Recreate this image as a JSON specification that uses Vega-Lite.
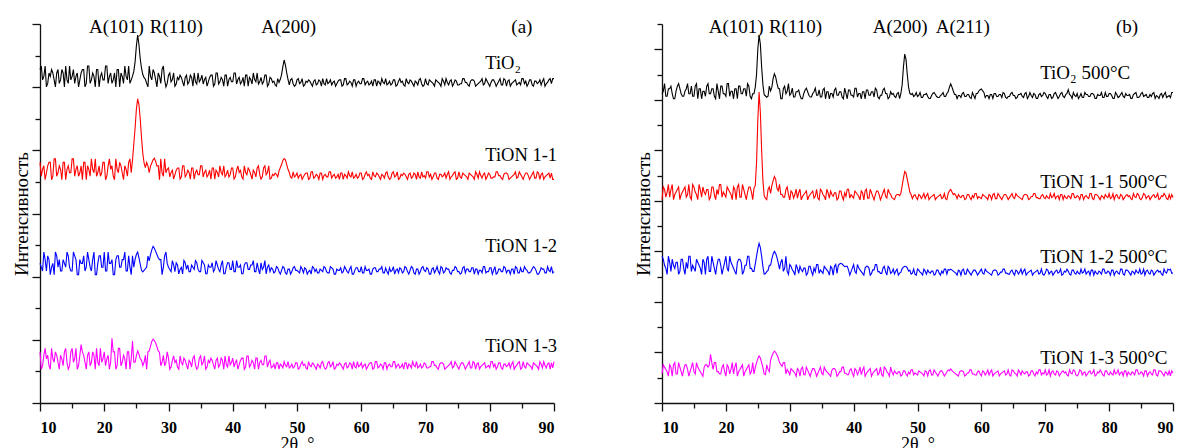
{
"$schema": "https://vega.github.io/schema/vega-lite/v6.json",
"background": "white",
"padding": {"left": 12, "top": 18, "right": 0, "bottom": 0},
"config": {
 "view": {"stroke": null},
 "axis": {"grid": false, "domainColor": "#111", "tickColor": "#111", "domainWidth": 1.3, "tickWidth": 1.3, "labelColor": "#000", "titleColor": "#000", "labelFont": "Liberation Serif, serif", "titleFont": "Liberation Serif, serif", "titleFontWeight": "normal"},
 "text": {"font": "Liberation Serif, serif", "color": "#000"}
},
"datasets": {
 "xrd": [
{"x":10.0,"a0":1056,"a1":762,"a2":442,"a3":162,"b0":1224,"b1":805,"b2":581,"b3":115},
{"x":10.4,"a0":1023,"a1":740,"a2":418,"a3":118,"b0":1264,"b1":845,"b2":545,"b3":142},
{"x":10.8,"a0":1067,"a1":707,"a2":454,"a3":173,"b0":1214,"b1":835,"b2":509,"b3":124},
{"x":11.2,"a0":1012,"a1":751,"a2":466,"a3":151,"b0":1244,"b1":815,"b2":557,"b3":151},
{"x":11.6,"a0":1034,"a1":762,"a2":406,"a3":107,"b0":1224,"b1":865,"b2":569,"b3":106},
{"x":12.0,"a0":1045,"a1":718,"a2":442,"a3":140,"b0":1204,"b1":825,"b2":533,"b3":160},
{"x":12.4,"a0":1001,"a1":773,"a2":478,"a3":162,"b0":1254,"b1":845,"b2":557,"b3":115},
{"x":12.8,"a0":1056,"a1":729,"a2":430,"a3":129,"b0":1244,"b1":805,"b2":521,"b3":142},
{"x":13.2,"a0":1023,"a1":740,"a2":418,"a3":151,"b0":1214,"b1":835,"b2":569,"b3":106},
{"x":13.6,"a0":1045,"a1":762,"a2":454,"a3":118,"b0":1234,"b1":855,"b2":509,"b3":151},
{"x":14.0,"a0":1067,"a1":707,"a2":430,"a3":173,"b0":1264,"b1":825,"b2":533,"b3":133},
{"x":14.4,"a0":1012,"a1":751,"a2":466,"a3":107,"b0":1224,"b1":815,"b2":581,"b3":124},
{"x":14.8,"a0":1023,"a1":729,"a2":418,"a3":162,"b0":1214,"b1":865,"b2":545,"b3":160},
{"x":15.2,"a0":1056,"a1":773,"a2":478,"a3":129,"b0":1254,"b1":835,"b2":521,"b3":115},
{"x":15.6,"a0":1034,"a1":740,"a2":454,"a3":173,"b0":1204,"b1":805,"b2":557,"b3":142},
{"x":16.0,"a0":1001,"a1":718,"a2":406,"a3":118,"b0":1244,"b1":845,"b2":533,"b3":124},
{"x":16.4,"a0":1045,"a1":751,"a2":442,"a3":185,"b0":1234,"b1":855,"b2":569,"b3":106},
{"x":16.8,"a0":1056,"a1":762,"a2":466,"a3":151,"b0":1214,"b1":825,"b2":509,"b3":151},
{"x":17.2,"a0":1012,"a1":707,"a2":430,"a3":107,"b0":1264,"b1":845,"b2":581,"b3":142},
{"x":17.6,"a0":1067,"a1":740,"a2":454,"a3":162,"b0":1224,"b1":815,"b2":521,"b3":193},
{"x":18.0,"a0":1023,"a1":773,"a2":418,"a3":129,"b0":1244,"b1":855,"b2":557,"b3":133},
{"x":18.4,"a0":1034,"a1":729,"a2":478,"a3":151,"b0":1204,"b1":805,"b2":509,"b3":160},
{"x":18.8,"a0":1056,"a1":718,"a2":406,"a3":173,"b0":1234,"b1":825,"b2":569,"b3":124},
{"x":19.2,"a0":1001,"a1":751,"a2":466,"a3":118,"b0":1254,"b1":865,"b2":545,"b3":115},
{"x":19.6,"a0":1045,"a1":729,"a2":430,"a3":129,"b0":1224,"b1":835,"b2":533,"b3":151},
{"x":20.0,"a0":1023,"a1":762,"a2":478,"a3":162,"b0":1214,"b1":815,"b2":581,"b3":106},
{"x":20.4,"a0":1067,"a1":718,"a2":418,"a3":140,"b0":1264,"b1":845,"b2":521,"b3":142},
{"x":20.8,"a0":1034,"a1":773,"a2":442,"a3":107,"b0":1234,"b1":825,"b2":557,"b3":133},
{"x":21.2,"a0":1012,"a1":751,"a2":454,"a3":205,"b0":1204,"b1":855,"b2":533,"b3":115},
{"x":21.6,"a0":1045,"a1":707,"a2":406,"a3":162,"b0":1244,"b1":805,"b2":509,"b3":160},
{"x":22.0,"a0":1056,"a1":740,"a2":466,"a3":118,"b0":1254,"b1":865,"b2":569,"b3":124},
{"x":22.4,"a0":1001,"a1":762,"a2":430,"a3":173,"b0":1224,"b1":815,"b2":557,"b3":142},
{"x":22.8,"a0":1034,"a1":729,"a2":454,"a3":129,"b0":1244,"b1":845,"b2":521,"b3":106},
{"x":23.2,"a0":1067,"a1":751,"a2":478,"a3":140,"b0":1214,"b1":805,"b2":545,"b3":133},
{"x":23.6,"a0":1023,"a1":718,"a2":418,"a3":162,"b0":1254,"b1":855,"b2":581,"b3":151},
{"x":24.0,"a0":1012,"a1":773,"a2":430,"a3":107,"b0":1204,"b1":835,"b2":533,"b3":124},
{"x":24.4,"a0":1035,"a1":770,"a2":466,"a3":196,"b0":1224,"b1":850,"b2":521,"b3":115},
{"x":24.8,"a0":1080,"a1":870,"a2":455,"a3":129,"b0":1300,"b1":950,"b2":580,"b3":160},
{"x":25.2,"a0":1165,"a1":963,"a2":478,"a3":165,"b0":1456,"b1":1231,"b2":632,"b3":186},
{"x":25.6,"a0":1090,"a1":900,"a2":440,"a3":140,"b0":1330,"b1":1000,"b2":580,"b3":160},
{"x":26.0,"a0":1040,"a1":790,"a2":415,"a3":118,"b0":1220,"b1":820,"b2":510,"b3":115},
{"x":26.4,"a0":1025,"a1":745,"a2":425,"a3":151,"b0":1210,"b1":805,"b2":520,"b3":151},
{"x":26.8,"a0":1001,"a1":751,"a2":465,"a3":162,"b0":1254,"b1":855,"b2":545,"b3":124},
{"x":27.2,"a0":1034,"a1":750,"a2":470,"a3":180,"b0":1250,"b1":860,"b2":570,"b3":185},
{"x":27.6,"a0":1056,"a1":770,"a2":496,"a3":202,"b0":1303,"b1":896,"b2":600,"b3":205},
{"x":28.0,"a0":1023,"a1":765,"a2":480,"a3":190,"b0":1265,"b1":850,"b2":575,"b3":190},
{"x":28.4,"a0":1045,"a1":751,"a2":460,"a3":165,"b0":1244,"b1":865,"b2":530,"b3":160},
{"x":28.8,"a0":1012,"a1":773,"a2":454,"a3":118,"b0":1204,"b1":825,"b2":569,"b3":145},
{"x":29.2,"a0":1067,"a1":718,"a2":430,"a3":151,"b0":1254,"b1":815,"b2":533,"b3":160},
{"x":29.6,"a0":1001,"a1":729,"a2":478,"a3":129,"b0":1234,"b1":855,"b2":521,"b3":133},
{"x":30.0,"a0":1038,"a1":744,"a2":430,"a3":142,"b0":1218,"b1":804,"b2":548,"b3":112},
{"x":30.4,"a0":1017,"a1":730,"a2":416,"a3":114,"b0":1246,"b1":832,"b2":527,"b3":130},
{"x":30.8,"a0":1045,"a1":709,"a2":437,"a3":149,"b0":1211,"b1":825,"b2":506,"b3":118},
{"x":31.2,"a0":1010,"a1":737,"a2":444,"a3":135,"b0":1232,"b1":811,"b2":534,"b3":136},
{"x":31.6,"a0":1024,"a1":744,"a2":409,"a3":107,"b0":1218,"b1":846,"b2":541,"b3":106},
{"x":32.0,"a0":1031,"a1":716,"a2":430,"a3":128,"b0":1204,"b1":818,"b2":520,"b3":142},
{"x":32.4,"a0":1003,"a1":751,"a2":451,"a3":142,"b0":1239,"b1":832,"b2":534,"b3":112},
{"x":32.8,"a0":1038,"a1":723,"a2":423,"a3":121,"b0":1232,"b1":804,"b2":513,"b3":130},
{"x":33.2,"a0":1017,"a1":730,"a2":416,"a3":135,"b0":1211,"b1":825,"b2":541,"b3":106},
{"x":33.6,"a0":1031,"a1":744,"a2":437,"a3":114,"b0":1225,"b1":839,"b2":506,"b3":136},
{"x":34.0,"a0":1045,"a1":709,"a2":423,"a3":149,"b0":1246,"b1":818,"b2":520,"b3":124},
{"x":34.4,"a0":1010,"a1":737,"a2":444,"a3":107,"b0":1218,"b1":811,"b2":548,"b3":118},
{"x":34.8,"a0":1017,"a1":723,"a2":416,"a3":142,"b0":1211,"b1":846,"b2":527,"b3":142},
{"x":35.2,"a0":1038,"a1":751,"a2":451,"a3":121,"b0":1239,"b1":825,"b2":513,"b3":112},
{"x":35.6,"a0":1024,"a1":730,"a2":437,"a3":149,"b0":1204,"b1":804,"b2":534,"b3":130},
{"x":36.0,"a0":1003,"a1":716,"a2":409,"a3":114,"b0":1232,"b1":832,"b2":520,"b3":118},
{"x":36.4,"a0":1031,"a1":737,"a2":430,"a3":128,"b0":1225,"b1":839,"b2":541,"b3":106},
{"x":36.8,"a0":1038,"a1":744,"a2":444,"a3":135,"b0":1211,"b1":818,"b2":506,"b3":136},
{"x":37.2,"a0":1010,"a1":709,"a2":423,"a3":107,"b0":1246,"b1":832,"b2":548,"b3":130},
{"x":37.6,"a0":1045,"a1":730,"a2":437,"a3":142,"b0":1218,"b1":811,"b2":545,"b3":112},
{"x":38.0,"a0":1017,"a1":751,"a2":416,"a3":121,"b0":1232,"b1":839,"b2":553,"b3":124},
{"x":38.4,"a0":1024,"a1":723,"a2":451,"a3":135,"b0":1204,"b1":804,"b2":545,"b3":142},
{"x":38.8,"a0":1038,"a1":716,"a2":409,"a3":149,"b0":1225,"b1":818,"b2":541,"b3":118},
{"x":39.2,"a0":1003,"a1":737,"a2":444,"a3":114,"b0":1239,"b1":846,"b2":527,"b3":112},
{"x":39.6,"a0":1031,"a1":723,"a2":423,"a3":121,"b0":1218,"b1":825,"b2":520,"b3":136},
{"x":40.0,"a0":1017,"a1":744,"a2":451,"a3":142,"b0":1211,"b1":811,"b2":548,"b3":106},
{"x":40.4,"a0":1045,"a1":716,"a2":416,"a3":128,"b0":1246,"b1":832,"b2":513,"b3":130},
{"x":40.8,"a0":1024,"a1":751,"a2":430,"a3":107,"b0":1225,"b1":818,"b2":534,"b3":124},
{"x":41.2,"a0":1010,"a1":737,"a2":437,"a3":135,"b0":1204,"b1":839,"b2":520,"b3":112},
{"x":41.6,"a0":1031,"a1":709,"a2":409,"a3":142,"b0":1232,"b1":804,"b2":506,"b3":142},
{"x":42.0,"a0":1038,"a1":730,"a2":444,"a3":114,"b0":1239,"b1":846,"b2":541,"b3":118},
{"x":42.4,"a0":1003,"a1":744,"a2":423,"a3":149,"b0":1218,"b1":811,"b2":534,"b3":130},
{"x":42.8,"a0":1024,"a1":723,"a2":437,"a3":121,"b0":1232,"b1":832,"b2":513,"b3":106},
{"x":43.2,"a0":1045,"a1":737,"a2":451,"a3":128,"b0":1211,"b1":804,"b2":527,"b3":124},
{"x":43.6,"a0":1017,"a1":716,"a2":416,"a3":142,"b0":1239,"b1":839,"b2":548,"b3":136},
{"x":44.0,"a0":1010,"a1":751,"a2":423,"a3":107,"b0":1204,"b1":825,"b2":520,"b3":118},
{"x":44.4,"a0":1031,"a1":709,"a2":444,"a3":135,"b0":1218,"b1":818,"b2":513,"b3":112},
{"x":44.8,"a0":1017,"a1":744,"a2":430,"a3":121,"b0":1246,"b1":846,"b2":541,"b3":142},
{"x":45.2,"a0":1038,"a1":723,"a2":409,"a3":149,"b0":1225,"b1":811,"b2":506,"b3":124},
{"x":45.6,"a0":1010,"a1":751,"a2":437,"a3":128,"b0":1211,"b1":832,"b2":534,"b3":106},
{"x":46.0,"a0":1027,"a1":712,"a2":428,"a3":111,"b0":1221,"b1":813,"b2":518,"b3":123},
{"x":46.4,"a0":1019,"a1":720,"a2":412,"a3":123,"b0":1213,"b1":805,"b2":510,"b3":127},
{"x":46.8,"a0":1003,"a1":724,"a2":432,"a3":127,"b0":1225,"b1":825,"b2":530,"b3":115},
{"x":47.2,"a0":1015,"a1":735,"a2":416,"a3":107,"b0":1205,"b1":821,"b2":514,"b3":123},
{"x":47.6,"a0":1040,"a1":755,"a2":420,"a3":119,"b0":1260,"b1":860,"b2":532,"b3":111},
{"x":48.0,"a0":1086,"a1":774,"a2":428,"a3":131,"b0":1381,"b1":916,"b2":541,"b3":127},
{"x":48.4,"a0":1045,"a1":755,"a2":408,"a3":115,"b0":1300,"b1":885,"b2":535,"b3":107},
{"x":48.8,"a0":1007,"a1":730,"a2":424,"a3":111,"b0":1225,"b1":835,"b2":526,"b3":115},
{"x":49.2,"a0":1027,"a1":712,"a2":416,"a3":123,"b0":1225,"b1":809,"b2":514,"b3":131},
{"x":49.6,"a0":1003,"a1":716,"a2":432,"a3":115,"b0":1217,"b1":825,"b2":510,"b3":119},
{"x":50.0,"a0":1023,"a1":728,"a2":420,"a3":127,"b0":1213,"b1":805,"b2":530,"b3":111},
{"x":50.4,"a0":1011,"a1":720,"a2":412,"a3":111,"b0":1229,"b1":821,"b2":518,"b3":123},
{"x":50.8,"a0":1027,"a1":708,"a2":424,"a3":131,"b0":1209,"b1":817,"b2":506,"b3":115},
{"x":51.2,"a0":1007,"a1":724,"a2":428,"a3":123,"b0":1221,"b1":809,"b2":522,"b3":127},
{"x":51.6,"a0":1015,"a1":728,"a2":408,"a3":107,"b0":1213,"b1":829,"b2":526,"b3":107},
{"x":52.0,"a0":1019,"a1":712,"a2":420,"a3":119,"b0":1205,"b1":813,"b2":514,"b3":131},
{"x":52.4,"a0":1003,"a1":732,"a2":432,"a3":127,"b0":1225,"b1":821,"b2":522,"b3":111},
{"x":52.8,"a0":1023,"a1":716,"a2":416,"a3":115,"b0":1221,"b1":805,"b2":510,"b3":123},
{"x":53.2,"a0":1011,"a1":720,"a2":412,"a3":123,"b0":1209,"b1":817,"b2":526,"b3":107},
{"x":53.6,"a0":1019,"a1":728,"a2":424,"a3":111,"b0":1217,"b1":825,"b2":506,"b3":127},
{"x":54.0,"a0":1027,"a1":708,"a2":416,"a3":131,"b0":1229,"b1":813,"b2":514,"b3":119},
{"x":54.4,"a0":1007,"a1":724,"a2":428,"a3":107,"b0":1213,"b1":809,"b2":530,"b3":115},
{"x":54.8,"a0":1011,"a1":716,"a2":412,"a3":127,"b0":1232,"b1":829,"b2":528,"b3":131},
{"x":55.2,"a0":1023,"a1":732,"a2":432,"a3":115,"b0":1263,"b1":845,"b2":530,"b3":135},
{"x":55.6,"a0":1015,"a1":720,"a2":424,"a3":131,"b0":1235,"b1":825,"b2":522,"b3":123},
{"x":56.0,"a0":1003,"a1":712,"a2":408,"a3":111,"b0":1221,"b1":821,"b2":514,"b3":115},
{"x":56.4,"a0":1019,"a1":724,"a2":420,"a3":119,"b0":1217,"b1":825,"b2":526,"b3":107},
{"x":56.8,"a0":1023,"a1":728,"a2":428,"a3":123,"b0":1209,"b1":813,"b2":506,"b3":127},
{"x":57.2,"a0":1007,"a1":708,"a2":416,"a3":107,"b0":1229,"b1":821,"b2":530,"b3":123},
{"x":57.6,"a0":1027,"a1":720,"a2":424,"a3":127,"b0":1213,"b1":809,"b2":510,"b3":111},
{"x":58.0,"a0":1011,"a1":732,"a2":412,"a3":115,"b0":1221,"b1":825,"b2":522,"b3":119},
{"x":58.4,"a0":1015,"a1":716,"a2":432,"a3":123,"b0":1205,"b1":805,"b2":506,"b3":131},
{"x":58.8,"a0":1023,"a1":712,"a2":408,"a3":131,"b0":1217,"b1":813,"b2":526,"b3":115},
{"x":59.2,"a0":1003,"a1":724,"a2":428,"a3":111,"b0":1225,"b1":829,"b2":518,"b3":111},
{"x":59.6,"a0":1019,"a1":716,"a2":416,"a3":115,"b0":1235,"b1":817,"b2":514,"b3":127},
{"x":60.0,"a0":1011,"a1":728,"a2":432,"a3":127,"b0":1243,"b1":809,"b2":530,"b3":107},
{"x":60.4,"a0":1027,"a1":712,"a2":412,"a3":119,"b0":1229,"b1":821,"b2":510,"b3":123},
{"x":60.8,"a0":1015,"a1":732,"a2":420,"a3":107,"b0":1217,"b1":813,"b2":522,"b3":119},
{"x":61.2,"a0":1007,"a1":724,"a2":424,"a3":123,"b0":1205,"b1":825,"b2":514,"b3":111},
{"x":61.6,"a0":1019,"a1":708,"a2":408,"a3":127,"b0":1221,"b1":805,"b2":506,"b3":131},
{"x":62.0,"a0":1023,"a1":720,"a2":428,"a3":111,"b0":1225,"b1":829,"b2":526,"b3":115},
{"x":62.4,"a0":1003,"a1":728,"a2":416,"a3":131,"b0":1213,"b1":809,"b2":522,"b3":123},
{"x":62.8,"a0":1015,"a1":716,"a2":424,"a3":115,"b0":1221,"b1":821,"b2":510,"b3":107},
{"x":63.2,"a0":1027,"a1":724,"a2":432,"a3":119,"b0":1209,"b1":805,"b2":518,"b3":119},
{"x":63.6,"a0":1011,"a1":712,"a2":412,"a3":127,"b0":1225,"b1":825,"b2":530,"b3":127},
{"x":64.0,"a0":1007,"a1":732,"a2":416,"a3":107,"b0":1205,"b1":817,"b2":514,"b3":115},
{"x":64.4,"a0":1019,"a1":708,"a2":428,"a3":123,"b0":1213,"b1":813,"b2":510,"b3":111},
{"x":64.8,"a0":1011,"a1":728,"a2":420,"a3":115,"b0":1229,"b1":829,"b2":526,"b3":131},
{"x":65.2,"a0":1023,"a1":716,"a2":408,"a3":131,"b0":1217,"b1":809,"b2":506,"b3":119},
{"x":65.6,"a0":1007,"a1":732,"a2":424,"a3":119,"b0":1209,"b1":821,"b2":522,"b3":107},
{"x":66.0,"a0":1027,"a1":712,"a2":428,"a3":111,"b0":1221,"b1":813,"b2":518,"b3":123},
{"x":66.4,"a0":1019,"a1":720,"a2":412,"a3":123,"b0":1213,"b1":805,"b2":510,"b3":127},
{"x":66.8,"a0":1003,"a1":724,"a2":432,"a3":127,"b0":1225,"b1":825,"b2":530,"b3":115},
{"x":67.2,"a0":1015,"a1":708,"a2":416,"a3":107,"b0":1205,"b1":821,"b2":514,"b3":123},
{"x":67.6,"a0":1023,"a1":728,"a2":420,"a3":119,"b0":1229,"b1":809,"b2":522,"b3":111},
{"x":68.0,"a0":1011,"a1":716,"a2":428,"a3":131,"b0":1209,"b1":817,"b2":506,"b3":127},
{"x":68.4,"a0":1019,"a1":724,"a2":408,"a3":115,"b0":1221,"b1":829,"b2":518,"b3":107},
{"x":68.8,"a0":1007,"a1":732,"a2":424,"a3":111,"b0":1205,"b1":813,"b2":526,"b3":115},
{"x":69.2,"a0":1027,"a1":712,"a2":416,"a3":123,"b0":1225,"b1":809,"b2":514,"b3":131},
{"x":69.6,"a0":1003,"a1":716,"a2":432,"a3":115,"b0":1217,"b1":825,"b2":510,"b3":119},
{"x":70.0,"a0":1027,"a1":712,"a2":416,"a3":123,"b0":1225,"b1":809,"b2":514,"b3":131},
{"x":70.4,"a0":1007,"a1":732,"a2":424,"a3":111,"b0":1205,"b1":813,"b2":526,"b3":115},
{"x":70.8,"a0":1019,"a1":724,"a2":408,"a3":115,"b0":1221,"b1":829,"b2":518,"b3":107},
{"x":71.2,"a0":1011,"a1":716,"a2":428,"a3":131,"b0":1209,"b1":817,"b2":506,"b3":127},
{"x":71.6,"a0":1023,"a1":728,"a2":420,"a3":119,"b0":1229,"b1":809,"b2":522,"b3":111},
{"x":72.0,"a0":1015,"a1":708,"a2":416,"a3":107,"b0":1205,"b1":821,"b2":514,"b3":123},
{"x":72.4,"a0":1003,"a1":724,"a2":432,"a3":127,"b0":1225,"b1":825,"b2":530,"b3":115},
{"x":72.8,"a0":1019,"a1":720,"a2":412,"a3":123,"b0":1213,"b1":805,"b2":510,"b3":127},
{"x":73.2,"a0":1027,"a1":712,"a2":428,"a3":111,"b0":1221,"b1":813,"b2":518,"b3":123},
{"x":73.6,"a0":1007,"a1":732,"a2":424,"a3":119,"b0":1240,"b1":821,"b2":522,"b3":107},
{"x":74.0,"a0":1023,"a1":716,"a2":408,"a3":131,"b0":1217,"b1":809,"b2":506,"b3":119},
{"x":74.4,"a0":1011,"a1":728,"a2":420,"a3":115,"b0":1229,"b1":829,"b2":526,"b3":131},
{"x":74.8,"a0":1019,"a1":708,"a2":428,"a3":123,"b0":1213,"b1":813,"b2":510,"b3":111},
{"x":75.2,"a0":1007,"a1":732,"a2":416,"a3":107,"b0":1205,"b1":817,"b2":514,"b3":115},
{"x":75.6,"a0":1011,"a1":712,"a2":412,"a3":127,"b0":1225,"b1":825,"b2":530,"b3":127},
{"x":76.0,"a0":1027,"a1":724,"a2":432,"a3":119,"b0":1209,"b1":805,"b2":518,"b3":119},
{"x":76.4,"a0":1015,"a1":716,"a2":424,"a3":115,"b0":1221,"b1":821,"b2":510,"b3":107},
{"x":76.8,"a0":1003,"a1":728,"a2":416,"a3":131,"b0":1213,"b1":809,"b2":522,"b3":123},
{"x":77.2,"a0":1023,"a1":720,"a2":428,"a3":111,"b0":1225,"b1":829,"b2":526,"b3":115},
{"x":77.6,"a0":1019,"a1":708,"a2":408,"a3":127,"b0":1221,"b1":805,"b2":506,"b3":131},
{"x":78.0,"a0":1007,"a1":724,"a2":424,"a3":123,"b0":1205,"b1":825,"b2":514,"b3":111},
{"x":78.4,"a0":1015,"a1":732,"a2":420,"a3":107,"b0":1217,"b1":813,"b2":522,"b3":119},
{"x":78.8,"a0":1027,"a1":712,"a2":412,"a3":119,"b0":1229,"b1":821,"b2":510,"b3":123},
{"x":79.2,"a0":1011,"a1":728,"a2":432,"a3":127,"b0":1209,"b1":809,"b2":530,"b3":107},
{"x":79.6,"a0":1019,"a1":716,"a2":416,"a3":115,"b0":1213,"b1":817,"b2":514,"b3":127},
{"x":80.0,"a0":1003,"a1":724,"a2":428,"a3":111,"b0":1225,"b1":829,"b2":518,"b3":111},
{"x":80.4,"a0":1023,"a1":712,"a2":408,"a3":131,"b0":1217,"b1":813,"b2":526,"b3":115},
{"x":80.8,"a0":1015,"a1":716,"a2":432,"a3":123,"b0":1205,"b1":805,"b2":506,"b3":131},
{"x":81.2,"a0":1011,"a1":732,"a2":412,"a3":115,"b0":1221,"b1":825,"b2":522,"b3":119},
{"x":81.6,"a0":1027,"a1":720,"a2":424,"a3":127,"b0":1213,"b1":809,"b2":510,"b3":111},
{"x":82.0,"a0":1007,"a1":708,"a2":416,"a3":107,"b0":1229,"b1":821,"b2":530,"b3":123},
{"x":82.4,"a0":1023,"a1":728,"a2":428,"a3":123,"b0":1209,"b1":813,"b2":506,"b3":127},
{"x":82.8,"a0":1019,"a1":724,"a2":420,"a3":119,"b0":1217,"b1":825,"b2":526,"b3":107},
{"x":83.2,"a0":1003,"a1":712,"a2":408,"a3":111,"b0":1221,"b1":821,"b2":514,"b3":115},
{"x":83.6,"a0":1015,"a1":720,"a2":424,"a3":131,"b0":1205,"b1":805,"b2":522,"b3":123},
{"x":84.0,"a0":1023,"a1":732,"a2":432,"a3":115,"b0":1225,"b1":817,"b2":510,"b3":111},
{"x":84.4,"a0":1011,"a1":716,"a2":412,"a3":127,"b0":1209,"b1":829,"b2":518,"b3":131},
{"x":84.8,"a0":1007,"a1":724,"a2":428,"a3":107,"b0":1213,"b1":809,"b2":530,"b3":115},
{"x":85.2,"a0":1027,"a1":708,"a2":416,"a3":131,"b0":1229,"b1":813,"b2":514,"b3":119},
{"x":85.6,"a0":1019,"a1":728,"a2":424,"a3":111,"b0":1217,"b1":825,"b2":506,"b3":127},
{"x":86.0,"a0":1011,"a1":720,"a2":412,"a3":123,"b0":1209,"b1":817,"b2":526,"b3":107},
{"x":86.4,"a0":1023,"a1":716,"a2":416,"a3":115,"b0":1221,"b1":805,"b2":510,"b3":123},
{"x":86.8,"a0":1003,"a1":732,"a2":432,"a3":127,"b0":1225,"b1":821,"b2":522,"b3":111},
{"x":87.2,"a0":1019,"a1":712,"a2":420,"a3":119,"b0":1205,"b1":813,"b2":514,"b3":131},
{"x":87.6,"a0":1015,"a1":728,"a2":408,"a3":107,"b0":1213,"b1":829,"b2":526,"b3":107},
{"x":88.0,"a0":1007,"a1":724,"a2":428,"a3":123,"b0":1221,"b1":809,"b2":522,"b3":127},
{"x":88.4,"a0":1027,"a1":708,"a2":424,"a3":131,"b0":1209,"b1":817,"b2":506,"b3":115},
{"x":88.8,"a0":1011,"a1":720,"a2":412,"a3":111,"b0":1229,"b1":821,"b2":518,"b3":123},
{"x":89.2,"a0":1023,"a1":728,"a2":420,"a3":127,"b0":1213,"b1":805,"b2":530,"b3":111},
{"x":89.6,"a0":1011,"a1":728,"a2":432,"a3":127,"b0":1209,"b1":809,"b2":530,"b3":107},
{"x":90.0,"a0":1027,"a1":708,"a2":416,"a3":131,"b0":1229,"b1":813,"b2":514,"b3":119},
{"x":10.2,"a0":1067,"a1":718,"a2":430,"a3":107,"b0":1234,"b1":855,"b2":569,"b3":151},
{"x":10.6,"a0":1034,"a1":751,"a2":478,"a3":151,"b0":1214,"b1":815,"b2":533,"b3":133},
{"x":11.0,"a0":1001,"a1":729,"a2":418,"a3":140,"b0":1244,"b1":865,"b2":581,"b3":106},
{"x":11.4,"a0":1045,"a1":762,"a2":454,"a3":118,"b0":1254,"b1":845,"b2":521,"b3":142},
{"x":11.8,"a0":1056,"a1":707,"a2":430,"a3":173,"b0":1204,"b1":805,"b2":545,"b3":151},
{"x":12.2,"a0":1023,"a1":773,"a2":406,"a3":129,"b0":1234,"b1":835,"b2":557,"b3":115},
{"x":12.6,"a0":1045,"a1":718,"a2":466,"a3":151,"b0":1264,"b1":855,"b2":509,"b3":160},
{"x":13.0,"a0":1012,"a1":751,"a2":454,"a3":107,"b0":1224,"b1":825,"b2":569,"b3":124},
{"x":13.4,"a0":1056,"a1":707,"a2":418,"a3":140,"b0":1214,"b1":845,"b2":533,"b3":133},
{"x":13.8,"a0":1001,"a1":762,"a2":442,"a3":162,"b0":1244,"b1":815,"b2":557,"b3":151},
{"x":14.2,"a0":1023,"a1":740,"a2":478,"a3":129,"b0":1224,"b1":865,"b2":581,"b3":106},
{"x":14.6,"a0":1067,"a1":729,"a2":430,"a3":118,"b0":1254,"b1":805,"b2":521,"b3":142},
{"x":15.0,"a0":1034,"a1":773,"a2":418,"a3":173,"b0":1214,"b1":855,"b2":533,"b3":124},
{"x":15.4,"a0":1012,"a1":718,"a2":466,"a3":140,"b0":1264,"b1":825,"b2":569,"b3":160},
{"x":15.8,"a0":1045,"a1":751,"a2":406,"a3":107,"b0":1244,"b1":865,"b2":545,"b3":133},
{"x":16.2,"a0":1023,"a1":729,"a2":454,"a3":151,"b0":1204,"b1":815,"b2":509,"b3":115},
{"x":16.6,"a0":1056,"a1":707,"a2":442,"a3":162,"b0":1234,"b1":835,"b2":557,"b3":142},
{"x":17.0,"a0":1001,"a1":762,"a2":418,"a3":129,"b0":1254,"b1":845,"b2":569,"b3":151},
{"x":17.4,"a0":1067,"a1":751,"a2":478,"a3":151,"b0":1224,"b1":805,"b2":521,"b3":150},
{"x":17.8,"a0":1012,"a1":718,"a2":430,"a3":118,"b0":1244,"b1":855,"b2":581,"b3":160},
{"x":18.2,"a0":1045,"a1":740,"a2":454,"a3":162,"b0":1214,"b1":825,"b2":533,"b3":160},
{"x":18.6,"a0":1001,"a1":773,"a2":406,"a3":107,"b0":1264,"b1":845,"b2":545,"b3":124},
{"x":19.0,"a0":1056,"a1":729,"a2":442,"a3":129,"b0":1204,"b1":865,"b2":569,"b3":115},
{"x":19.4,"a0":1034,"a1":718,"a2":466,"a3":173,"b0":1254,"b1":815,"b2":509,"b3":142},
{"x":19.8,"a0":1023,"a1":762,"a2":430,"a3":140,"b0":1224,"b1":825,"b2":557,"b3":124},
{"x":20.2,"a0":1067,"a1":707,"a2":418,"a3":118,"b0":1264,"b1":855,"b2":533,"b3":151},
{"x":20.6,"a0":1012,"a1":751,"a2":478,"a3":151,"b0":1214,"b1":835,"b2":581,"b3":115},
{"x":21.0,"a0":1045,"a1":740,"a2":442,"a3":129,"b0":1234,"b1":805,"b2":545,"b3":160},
{"x":21.4,"a0":1023,"a1":718,"a2":406,"a3":162,"b0":1244,"b1":845,"b2":521,"b3":142},
{"x":21.8,"a0":1001,"a1":773,"a2":454,"a3":107,"b0":1204,"b1":855,"b2":557,"b3":106},
{"x":22.2,"a0":1056,"a1":729,"a2":466,"a3":173,"b0":1254,"b1":815,"b2":569,"b3":133},
{"x":22.6,"a0":1045,"a1":751,"a2":430,"a3":118,"b0":1224,"b1":865,"b2":509,"b3":151},
{"x":23.0,"a0":1012,"a1":707,"a2":454,"a3":151,"b0":1244,"b1":825,"b2":545,"b3":124},
{"x":23.4,"a0":1034,"a1":740,"a2":418,"a3":107,"b0":1264,"b1":835,"b2":581,"b3":142},
{"x":23.8,"a0":1067,"a1":762,"a2":466,"a3":162,"b0":1214,"b1":855,"b2":533,"b3":115},
{"x":24.2,"a0":1023,"a1":729,"a2":406,"a3":140,"b0":1224,"b1":805,"b2":521,"b3":160},
{"x":24.6,"a0":1050,"a1":820,"a2":430,"a3":129,"b0":1250,"b1":860,"b2":550,"b3":140},
{"x":25.0,"a0":1130,"a1":930,"a2":470,"a3":150,"b0":1400,"b1":1120,"b2":610,"b3":175},
{"x":25.4,"a0":1135,"a1":945,"a2":460,"a3":155,"b0":1420,"b1":1150,"b2":615,"b3":178},
{"x":25.8,"a0":1060,"a1":840,"a2":420,"a3":135,"b0":1260,"b1":880,"b2":540,"b3":140},
{"x":26.2,"a0":1030,"a1":760,"a2":420,"a3":129,"b0":1215,"b1":810,"b2":512,"b3":112},
{"x":26.6,"a0":1012,"a1":762,"a2":430,"a3":107,"b0":1214,"b1":845,"b2":525,"b3":133},
{"x":27.0,"a0":1067,"a1":729,"a2":450,"a3":165,"b0":1235,"b1":830,"b2":545,"b3":170},
{"x":27.4,"a0":1023,"a1":760,"a2":485,"a3":195,"b0":1285,"b1":880,"b2":590,"b3":198},
{"x":27.8,"a0":1045,"a1":775,"a2":490,"a3":198,"b0":1290,"b1":885,"b2":592,"b3":200},
{"x":28.2,"a0":1001,"a1":750,"a2":470,"a3":178,"b0":1245,"b1":840,"b2":555,"b3":178},
{"x":28.6,"a0":1034,"a1":707,"a2":454,"a3":160,"b0":1204,"b1":825,"b2":557,"b3":152},
{"x":29.0,"a0":1056,"a1":729,"a2":406,"a3":129,"b0":1244,"b1":815,"b2":521,"b3":160},
{"x":29.4,"a0":1023,"a1":773,"a2":466,"a3":118,"b0":1224,"b1":845,"b2":581,"b3":115},
{"x":29.8,"a0":1012,"a1":740,"a2":442,"a3":162,"b0":1264,"b1":825,"b2":509,"b3":124},
{"x":30.2,"a0":1045,"a1":716,"a2":423,"a3":107,"b0":1225,"b1":839,"b2":541,"b3":136},
{"x":30.6,"a0":1024,"a1":737,"a2":451,"a3":135,"b0":1211,"b1":811,"b2":520,"b3":124},
{"x":31.0,"a0":1003,"a1":723,"a2":416,"a3":128,"b0":1232,"b1":846,"b2":548,"b3":106},
{"x":31.4,"a0":1031,"a1":744,"a2":437,"a3":114,"b0":1239,"b1":832,"b2":513,"b3":130},
{"x":31.8,"a0":1038,"a1":709,"a2":423,"a3":149,"b0":1204,"b1":804,"b2":527,"b3":136},
{"x":32.2,"a0":1017,"a1":751,"a2":409,"a3":121,"b0":1225,"b1":825,"b2":534,"b3":112},
{"x":32.6,"a0":1031,"a1":716,"a2":444,"a3":135,"b0":1246,"b1":839,"b2":506,"b3":142},
{"x":33.0,"a0":1010,"a1":737,"a2":437,"a3":107,"b0":1218,"b1":818,"b2":541,"b3":118},
{"x":33.4,"a0":1038,"a1":709,"a2":416,"a3":128,"b0":1211,"b1":832,"b2":520,"b3":124},
{"x":33.8,"a0":1003,"a1":744,"a2":430,"a3":142,"b0":1232,"b1":811,"b2":534,"b3":136},
{"x":34.2,"a0":1017,"a1":730,"a2":451,"a3":121,"b0":1218,"b1":846,"b2":548,"b3":106},
{"x":34.6,"a0":1045,"a1":723,"a2":423,"a3":114,"b0":1239,"b1":804,"b2":513,"b3":130},
{"x":35.0,"a0":1024,"a1":751,"a2":416,"a3":149,"b0":1211,"b1":839,"b2":520,"b3":118},
{"x":35.4,"a0":1010,"a1":716,"a2":444,"a3":128,"b0":1246,"b1":818,"b2":541,"b3":142},
{"x":35.8,"a0":1031,"a1":737,"a2":409,"a3":107,"b0":1232,"b1":846,"b2":527,"b3":124},
{"x":36.2,"a0":1017,"a1":723,"a2":437,"a3":135,"b0":1204,"b1":811,"b2":506,"b3":112},
{"x":36.6,"a0":1038,"a1":709,"a2":430,"a3":142,"b0":1225,"b1":825,"b2":534,"b3":130},
{"x":37.0,"a0":1003,"a1":744,"a2":416,"a3":121,"b0":1239,"b1":832,"b2":541,"b3":136},
{"x":37.4,"a0":1045,"a1":737,"a2":451,"a3":135,"b0":1218,"b1":804,"b2":513,"b3":106},
{"x":37.8,"a0":1010,"a1":716,"a2":423,"a3":114,"b0":1232,"b1":839,"b2":550,"b3":124},
{"x":38.2,"a0":1031,"a1":730,"a2":437,"a3":142,"b0":1211,"b1":818,"b2":550,"b3":142},
{"x":38.6,"a0":1003,"a1":751,"a2":409,"a3":107,"b0":1246,"b1":832,"b2":540,"b3":118},
{"x":39.0,"a0":1038,"a1":723,"a2":430,"a3":121,"b0":1204,"b1":846,"b2":541,"b3":112},
{"x":39.4,"a0":1024,"a1":716,"a2":444,"a3":149,"b0":1239,"b1":811,"b2":506,"b3":130},
{"x":39.8,"a0":1017,"a1":744,"a2":423,"a3":128,"b0":1218,"b1":818,"b2":534,"b3":118},
{"x":40.2,"a0":1045,"a1":709,"a2":416,"a3":114,"b0":1246,"b1":839,"b2":520,"b3":136},
{"x":40.6,"a0":1010,"a1":737,"a2":451,"a3":135,"b0":1211,"b1":825,"b2":548,"b3":112},
{"x":41.0,"a0":1031,"a1":730,"a2":430,"a3":121,"b0":1225,"b1":804,"b2":527,"b3":142},
{"x":41.4,"a0":1017,"a1":716,"a2":409,"a3":142,"b0":1232,"b1":832,"b2":513,"b3":130},
{"x":41.8,"a0":1003,"a1":751,"a2":437,"a3":107,"b0":1204,"b1":839,"b2":534,"b3":106},
{"x":42.2,"a0":1038,"a1":723,"a2":444,"a3":149,"b0":1239,"b1":811,"b2":541,"b3":124},
{"x":42.6,"a0":1031,"a1":737,"a2":423,"a3":114,"b0":1218,"b1":846,"b2":506,"b3":136},
{"x":43.0,"a0":1010,"a1":709,"a2":437,"a3":135,"b0":1232,"b1":818,"b2":527,"b3":118},
{"x":43.4,"a0":1024,"a1":730,"a2":416,"a3":107,"b0":1246,"b1":825,"b2":548,"b3":130},
{"x":43.8,"a0":1045,"a1":744,"a2":444,"a3":142,"b0":1211,"b1":839,"b2":520,"b3":112},
{"x":44.2,"a0":1017,"a1":723,"a2":409,"a3":128,"b0":1218,"b1":804,"b2":513,"b3":142},
{"x":44.6,"a0":1010,"a1":716,"a2":423,"a3":121,"b0":1239,"b1":832,"b2":534,"b3":106},
{"x":45.0,"a0":1038,"a1":751,"a2":451,"a3":149,"b0":1225,"b1":818,"b2":520,"b3":136},
{"x":45.4,"a0":1003,"a1":730,"a2":430,"a3":114,"b0":1204,"b1":846,"b2":541,"b3":118},
{"x":45.8,"a0":1031,"a1":709,"a2":416,"a3":135,"b0":1232,"b1":825,"b2":513,"b3":142},
{"x":46.2,"a0":1015,"a1":724,"a2":424,"a3":115,"b0":1225,"b1":809,"b2":530,"b3":111},
{"x":46.6,"a0":1007,"a1":728,"a2":416,"a3":107,"b0":1209,"b1":821,"b2":522,"b3":119},
{"x":47.0,"a0":1027,"a1":716,"a2":428,"a3":127,"b0":1229,"b1":825,"b2":506,"b3":123},
{"x":47.4,"a0":1025,"a1":745,"a2":408,"a3":123,"b0":1225,"b1":830,"b2":518,"b3":107},
{"x":47.8,"a0":1065,"a1":768,"a2":432,"a3":111,"b0":1330,"b1":890,"b2":538,"b3":127},
{"x":48.2,"a0":1070,"a1":770,"a2":412,"a3":119,"b0":1360,"b1":910,"b2":540,"b3":115},
{"x":48.6,"a0":1025,"a1":740,"a2":424,"a3":131,"b0":1250,"b1":860,"b2":522,"b3":123},
{"x":49.0,"a0":1023,"a1":716,"a2":408,"a3":115,"b0":1221,"b1":825,"b2":510,"b3":131},
{"x":49.4,"a0":1011,"a1":732,"a2":428,"a3":111,"b0":1213,"b1":821,"b2":530,"b3":111},
{"x":49.8,"a0":1007,"a1":720,"a2":420,"a3":127,"b0":1229,"b1":813,"b2":506,"b3":115},
{"x":50.2,"a0":1027,"a1":712,"a2":416,"a3":107,"b0":1217,"b1":825,"b2":526,"b3":127},
{"x":50.6,"a0":1015,"a1":724,"a2":432,"a3":123,"b0":1209,"b1":809,"b2":514,"b3":119},
{"x":51.0,"a0":1003,"a1":716,"a2":412,"a3":119,"b0":1221,"b1":829,"b2":530,"b3":107},
{"x":51.4,"a0":1019,"a1":728,"a2":424,"a3":111,"b0":1225,"b1":821,"b2":510,"b3":123},
{"x":51.8,"a0":1023,"a1":708,"a2":416,"a3":131,"b0":1205,"b1":805,"b2":518,"b3":127},
{"x":52.2,"a0":1011,"a1":732,"a2":408,"a3":115,"b0":1217,"b1":817,"b2":522,"b3":111},
{"x":52.6,"a0":1019,"a1":712,"a2":428,"a3":123,"b0":1229,"b1":825,"b2":506,"b3":131},
{"x":53.0,"a0":1007,"a1":724,"a2":424,"a3":107,"b0":1213,"b1":813,"b2":526,"b3":115},
{"x":53.4,"a0":1023,"a1":708,"a2":412,"a3":119,"b0":1209,"b1":821,"b2":514,"b3":119},
{"x":53.8,"a0":1003,"a1":728,"a2":420,"a3":127,"b0":1221,"b1":809,"b2":522,"b3":127},
{"x":54.2,"a0":1011,"a1":720,"a2":432,"a3":115,"b0":1213,"b1":829,"b2":530,"b3":107},
{"x":54.6,"a0":1027,"a1":716,"a2":416,"a3":111,"b0":1225,"b1":805,"b2":510,"b3":123},
{"x":55.0,"a0":1015,"a1":732,"a2":412,"a3":131,"b0":1250,"b1":840,"b2":526,"b3":128},
{"x":55.4,"a0":1007,"a1":712,"a2":428,"a3":119,"b0":1250,"b1":835,"b2":526,"b3":128},
{"x":55.8,"a0":1019,"a1":724,"a2":408,"a3":107,"b0":1221,"b1":829,"b2":518,"b3":119},
{"x":56.2,"a0":1011,"a1":716,"a2":424,"a3":123,"b0":1205,"b1":809,"b2":506,"b3":111},
{"x":56.6,"a0":1023,"a1":708,"a2":420,"a3":127,"b0":1217,"b1":817,"b2":522,"b3":123},
{"x":57.0,"a0":1003,"a1":728,"a2":412,"a3":115,"b0":1225,"b1":821,"b2":526,"b3":127},
{"x":57.4,"a0":1027,"a1":724,"a2":432,"a3":123,"b0":1213,"b1":805,"b2":510,"b3":107},
{"x":57.8,"a0":1007,"a1":712,"a2":416,"a3":111,"b0":1221,"b1":825,"b2":530,"b3":119},
{"x":58.2,"a0":1019,"a1":720,"a2":424,"a3":127,"b0":1209,"b1":813,"b2":514,"b3":131},
{"x":58.6,"a0":1003,"a1":732,"a2":408,"a3":107,"b0":1229,"b1":821,"b2":518,"b3":115},
{"x":59.0,"a0":1023,"a1":716,"a2":420,"a3":115,"b0":1205,"b1":829,"b2":526,"b3":111},
{"x":59.4,"a0":1015,"a1":712,"a2":428,"a3":131,"b0":1225,"b1":809,"b2":506,"b3":123},
{"x":59.8,"a0":1011,"a1":728,"a2":416,"a3":119,"b0":1240,"b1":813,"b2":522,"b3":115},
{"x":60.2,"a0":1027,"a1":708,"a2":412,"a3":111,"b0":1235,"b1":825,"b2":514,"b3":127},
{"x":60.6,"a0":1007,"a1":724,"a2":432,"a3":123,"b0":1209,"b1":817,"b2":530,"b3":111},
{"x":61.0,"a0":1019,"a1":720,"a2":420,"a3":115,"b0":1217,"b1":805,"b2":518,"b3":131},
{"x":61.4,"a0":1011,"a1":712,"a2":408,"a3":127,"b0":1221,"b1":821,"b2":510,"b3":123},
{"x":61.8,"a0":1003,"a1":732,"a2":424,"a3":107,"b0":1205,"b1":825,"b2":522,"b3":107},
{"x":62.2,"a0":1023,"a1":716,"a2":428,"a3":131,"b0":1225,"b1":809,"b2":526,"b3":119},
{"x":62.6,"a0":1019,"a1":724,"a2":416,"a3":111,"b0":1213,"b1":829,"b2":506,"b3":127},
{"x":63.0,"a0":1007,"a1":708,"a2":424,"a3":123,"b0":1221,"b1":813,"b2":518,"b3":115},
{"x":63.4,"a0":1015,"a1":720,"a2":412,"a3":107,"b0":1229,"b1":817,"b2":530,"b3":123},
{"x":63.8,"a0":1027,"a1":728,"a2":428,"a3":127,"b0":1209,"b1":825,"b2":514,"b3":111},
{"x":64.2,"a0":1011,"a1":716,"a2":408,"a3":119,"b0":1213,"b1":805,"b2":510,"b3":131},
{"x":64.6,"a0":1007,"a1":712,"a2":416,"a3":115,"b0":1225,"b1":821,"b2":522,"b3":107},
{"x":65.0,"a0":1023,"a1":732,"a2":432,"a3":131,"b0":1217,"b1":813,"b2":514,"b3":127},
{"x":65.4,"a0":1003,"a1":720,"a2":420,"a3":111,"b0":1205,"b1":829,"b2":526,"b3":115},
{"x":65.8,"a0":1019,"a1":708,"a2":412,"a3":123,"b0":1221,"b1":817,"b2":510,"b3":131},
{"x":66.2,"a0":1015,"a1":724,"a2":424,"a3":115,"b0":1225,"b1":809,"b2":530,"b3":111},
{"x":66.6,"a0":1007,"a1":728,"a2":416,"a3":107,"b0":1209,"b1":821,"b2":522,"b3":119},
{"x":67.0,"a0":1027,"a1":716,"a2":428,"a3":127,"b0":1229,"b1":825,"b2":506,"b3":123},
{"x":67.4,"a0":1011,"a1":724,"a2":408,"a3":123,"b0":1213,"b1":805,"b2":518,"b3":107},
{"x":67.8,"a0":1019,"a1":712,"a2":432,"a3":111,"b0":1217,"b1":817,"b2":526,"b3":127},
{"x":68.2,"a0":1003,"a1":728,"a2":412,"a3":119,"b0":1225,"b1":829,"b2":514,"b3":115},
{"x":68.6,"a0":1015,"a1":708,"a2":424,"a3":131,"b0":1205,"b1":813,"b2":522,"b3":123},
{"x":69.0,"a0":1023,"a1":716,"a2":408,"a3":115,"b0":1221,"b1":809,"b2":510,"b3":131},
{"x":69.4,"a0":1011,"a1":732,"a2":428,"a3":111,"b0":1213,"b1":821,"b2":530,"b3":111},
{"x":69.8,"a0":1007,"a1":720,"a2":420,"a3":127,"b0":1229,"b1":813,"b2":506,"b3":115},
{"x":70.2,"a0":1011,"a1":732,"a2":428,"a3":111,"b0":1213,"b1":821,"b2":530,"b3":111},
{"x":70.6,"a0":1023,"a1":716,"a2":408,"a3":115,"b0":1221,"b1":809,"b2":510,"b3":131},
{"x":71.0,"a0":1015,"a1":708,"a2":424,"a3":131,"b0":1205,"b1":813,"b2":522,"b3":123},
{"x":71.4,"a0":1003,"a1":728,"a2":412,"a3":119,"b0":1225,"b1":829,"b2":514,"b3":115},
{"x":71.8,"a0":1019,"a1":712,"a2":432,"a3":111,"b0":1217,"b1":817,"b2":526,"b3":127},
{"x":72.2,"a0":1011,"a1":724,"a2":408,"a3":123,"b0":1213,"b1":805,"b2":518,"b3":107},
{"x":72.6,"a0":1027,"a1":716,"a2":428,"a3":127,"b0":1229,"b1":825,"b2":506,"b3":123},
{"x":73.0,"a0":1007,"a1":728,"a2":416,"a3":107,"b0":1209,"b1":821,"b2":522,"b3":119},
{"x":73.4,"a0":1015,"a1":724,"a2":424,"a3":115,"b0":1225,"b1":809,"b2":530,"b3":111},
{"x":73.8,"a0":1019,"a1":708,"a2":412,"a3":123,"b0":1221,"b1":817,"b2":510,"b3":131},
{"x":74.2,"a0":1003,"a1":720,"a2":420,"a3":111,"b0":1205,"b1":829,"b2":526,"b3":115},
{"x":74.6,"a0":1023,"a1":732,"a2":432,"a3":131,"b0":1217,"b1":813,"b2":514,"b3":127},
{"x":75.0,"a0":1007,"a1":712,"a2":416,"a3":115,"b0":1225,"b1":821,"b2":522,"b3":107},
{"x":75.4,"a0":1011,"a1":716,"a2":408,"a3":119,"b0":1213,"b1":805,"b2":510,"b3":131},
{"x":75.8,"a0":1027,"a1":728,"a2":428,"a3":127,"b0":1209,"b1":825,"b2":514,"b3":111},
{"x":76.2,"a0":1015,"a1":720,"a2":412,"a3":107,"b0":1229,"b1":817,"b2":530,"b3":123},
{"x":76.6,"a0":1007,"a1":708,"a2":424,"a3":123,"b0":1221,"b1":813,"b2":518,"b3":115},
{"x":77.0,"a0":1019,"a1":724,"a2":416,"a3":111,"b0":1213,"b1":829,"b2":506,"b3":127},
{"x":77.4,"a0":1023,"a1":716,"a2":428,"a3":131,"b0":1225,"b1":809,"b2":526,"b3":119},
{"x":77.8,"a0":1003,"a1":732,"a2":424,"a3":107,"b0":1205,"b1":825,"b2":522,"b3":107},
{"x":78.2,"a0":1011,"a1":712,"a2":408,"a3":127,"b0":1221,"b1":821,"b2":510,"b3":123},
{"x":78.6,"a0":1019,"a1":720,"a2":420,"a3":115,"b0":1217,"b1":805,"b2":518,"b3":131},
{"x":79.0,"a0":1007,"a1":724,"a2":432,"a3":123,"b0":1209,"b1":817,"b2":530,"b3":111},
{"x":79.4,"a0":1027,"a1":708,"a2":412,"a3":111,"b0":1229,"b1":825,"b2":514,"b3":127},
{"x":79.8,"a0":1011,"a1":728,"a2":416,"a3":119,"b0":1213,"b1":813,"b2":522,"b3":115},
{"x":80.2,"a0":1015,"a1":712,"a2":428,"a3":131,"b0":1225,"b1":809,"b2":506,"b3":123},
{"x":80.6,"a0":1023,"a1":716,"a2":420,"a3":115,"b0":1205,"b1":829,"b2":526,"b3":111},
{"x":81.0,"a0":1003,"a1":732,"a2":408,"a3":107,"b0":1229,"b1":821,"b2":518,"b3":115},
{"x":81.4,"a0":1019,"a1":720,"a2":424,"a3":127,"b0":1209,"b1":813,"b2":514,"b3":131},
{"x":81.8,"a0":1007,"a1":712,"a2":416,"a3":111,"b0":1221,"b1":825,"b2":530,"b3":119},
{"x":82.2,"a0":1027,"a1":724,"a2":432,"a3":123,"b0":1213,"b1":805,"b2":510,"b3":107},
{"x":82.6,"a0":1003,"a1":728,"a2":412,"a3":115,"b0":1225,"b1":821,"b2":526,"b3":127},
{"x":83.0,"a0":1023,"a1":708,"a2":420,"a3":127,"b0":1217,"b1":817,"b2":522,"b3":123},
{"x":83.4,"a0":1011,"a1":716,"a2":424,"a3":123,"b0":1205,"b1":809,"b2":506,"b3":111},
{"x":83.8,"a0":1019,"a1":724,"a2":408,"a3":107,"b0":1221,"b1":829,"b2":518,"b3":119},
{"x":84.2,"a0":1007,"a1":712,"a2":428,"a3":119,"b0":1229,"b1":813,"b2":526,"b3":131},
{"x":84.6,"a0":1015,"a1":732,"a2":412,"a3":131,"b0":1209,"b1":825,"b2":514,"b3":115},
{"x":85.0,"a0":1027,"a1":716,"a2":416,"a3":111,"b0":1225,"b1":805,"b2":510,"b3":123},
{"x":85.4,"a0":1011,"a1":720,"a2":432,"a3":115,"b0":1213,"b1":829,"b2":530,"b3":107},
{"x":85.8,"a0":1003,"a1":728,"a2":420,"a3":127,"b0":1221,"b1":809,"b2":522,"b3":127},
{"x":86.2,"a0":1023,"a1":708,"a2":412,"a3":119,"b0":1209,"b1":821,"b2":514,"b3":119},
{"x":86.6,"a0":1007,"a1":724,"a2":424,"a3":107,"b0":1213,"b1":813,"b2":526,"b3":115},
{"x":87.0,"a0":1019,"a1":712,"a2":428,"a3":123,"b0":1229,"b1":825,"b2":506,"b3":131},
{"x":87.4,"a0":1011,"a1":732,"a2":408,"a3":115,"b0":1217,"b1":817,"b2":522,"b3":111},
{"x":87.8,"a0":1023,"a1":708,"a2":416,"a3":131,"b0":1205,"b1":805,"b2":518,"b3":127},
{"x":88.2,"a0":1019,"a1":728,"a2":424,"a3":111,"b0":1225,"b1":821,"b2":510,"b3":123},
{"x":88.6,"a0":1003,"a1":716,"a2":412,"a3":119,"b0":1221,"b1":829,"b2":530,"b3":107},
{"x":89.0,"a0":1015,"a1":724,"a2":432,"a3":123,"b0":1209,"b1":809,"b2":514,"b3":119},
{"x":89.4,"a0":1027,"a1":712,"a2":416,"a3":107,"b0":1217,"b1":825,"b2":526,"b3":127},
{"x":89.8,"a0":1027,"a1":708,"a2":412,"a3":111,"b0":1229,"b1":825,"b2":514,"b3":127}
 ],
 "labA": [
  {"x":79.3,"y":1075,"t":"TiO₂"},
  {"x":79.3,"y":786,"t":"TiON 1-1"},
  {"x":79.3,"y":496,"t":"TiON 1-2"},
  {"x":79.3,"y":180,"t":"TiON 1-3"}
 ],
 "peakA": [
  {"x":21.9,"y":1190,"t":"A(101)"},
  {"x":31.2,"y":1190,"t":"R(110)"},
  {"x":48.7,"y":1190,"t":"A(200)"},
  {"x":85,"y":1190,"t":"(a)"}
 ],
 "labB": [
  {"x":69.2,"y":1305,"t":"TiO₂ 500°C"},
  {"x":69.2,"y":876,"t":"TiON 1-1 500°C"},
  {"x":69.2,"y":576,"t":"TiON 1-2 500°C"},
  {"x":69.2,"y":178,"t":"TiON 1-3 500°C"}
 ],
 "peakB": [
  {"x":21.6,"y":1488,"t":"A(101)"},
  {"x":30.9,"y":1488,"t":"R(110)"},
  {"x":47.3,"y":1488,"t":"A(200)"},
  {"x":57.1,"y":1488,"t":"A(211)"},
  {"x":82.8,"y":1488,"t":"(b)"}
 ]
},
"bounds": "flush",
"spacing": 108,
"resolve": {"scale": {"x": "independent", "y": "independent", "color": "independent"}},
"hconcat": [
 {
  "width": 514, "height": 379,
  "encoding": {
   "x": {"field": "x", "type": "quantitative", "scale": {"domain": [10, 90], "nice": false, "zero": false},
    "axis": {"values": [10,15,20,25,30,35,40,45,50,55,60,65,70,75,80,85,90], "labelExpr": "datum.value % 10 === 0 ? datum.label : ''", "labelFontWeight": "bold", "labelFontSize": 16, "labelPadding": 8, "title": "2θ, °", "titleFontSize": 18, "titlePadding": 0,
     "tickSize": {"condition": {"test": "datum.value % 10 === 0", "value": 8}, "value": 5}}},
   "y": {"field": "y", "type": "quantitative", "scale": {"domain": [0, 1200], "nice": false, "zero": false},
    "axis": {"values": [0,100,200,300,400,500,600,700,800,900,1000,1100,1200], "labels": false, "title": "Интенсивность", "titleFontSize": 19, "titlePadding": 0,
     "tickSize": {"condition": {"test": "datum.value % 200 === 0", "value": 8}, "value": 5}}}
  },
  "layer": [
   {"data": {"name": "xrd"}, "transform": [{"fold": ["a0","a1","a2","a3"], "as": ["s","y"]}],
    "mark": {"type": "line", "strokeWidth": 1.1},
    "encoding": {"color": {"field": "s", "type": "nominal", "scale": {"domain": ["a0","a1","a2","a3"], "range": ["#000000","#ff0000","#0000ff","#ff00ff"]}, "legend": null}}},
   {"data": {"name": "labA"}, "mark": {"type": "text", "align": "left", "baseline": "middle", "fontSize": 18.5}, "encoding": {"text": {"field": "t"}}},
   {"data": {"name": "peakA"}, "mark": {"type": "text", "align": "center", "baseline": "middle", "fontSize": 19}, "encoding": {"text": {"field": "t"}}}
  ]
 },
 {
  "width": 511, "height": 379,
  "encoding": {
   "x": {"field": "x", "type": "quantitative", "scale": {"domain": [10, 90], "nice": false, "zero": false},
    "axis": {"values": [10,15,20,25,30,35,40,45,50,55,60,65,70,75,80,85,90], "labelExpr": "datum.value % 10 === 0 ? datum.label : ''", "labelFontWeight": "bold", "labelFontSize": 16, "labelPadding": 8, "title": "2θ, °", "titleFontSize": 18, "titlePadding": 0,
     "tickSize": {"condition": {"test": "datum.value % 10 === 0", "value": 8}, "value": 5}}},
   "y": {"field": "y", "type": "quantitative", "scale": {"domain": [0, 1500], "nice": false, "zero": false},
    "axis": {"values": [0,100,200,300,400,500,600,700,800,900,1000,1100,1200,1300,1400,1500], "labels": false, "title": "Интенсивность", "titleFontSize": 19, "titlePadding": 0,
     "tickSize": {"condition": {"test": "datum.value % 200 === 0", "value": 8}, "value": 5}}}
  },
  "layer": [
   {"data": {"name": "xrd"}, "transform": [{"fold": ["b0","b1","b2","b3"], "as": ["s","y"]}],
    "mark": {"type": "line", "strokeWidth": 1.1},
    "encoding": {"color": {"field": "s", "type": "nominal", "scale": {"domain": ["b0","b1","b2","b3"], "range": ["#000000","#ff0000","#0000ff","#ff00ff"]}, "legend": null}}},
   {"data": {"name": "labB"}, "mark": {"type": "text", "align": "left", "baseline": "middle", "fontSize": 19}, "encoding": {"text": {"field": "t"}}},
   {"data": {"name": "peakB"}, "mark": {"type": "text", "align": "center", "baseline": "middle", "fontSize": 19}, "encoding": {"text": {"field": "t"}}}
  ]
 }
]
}
